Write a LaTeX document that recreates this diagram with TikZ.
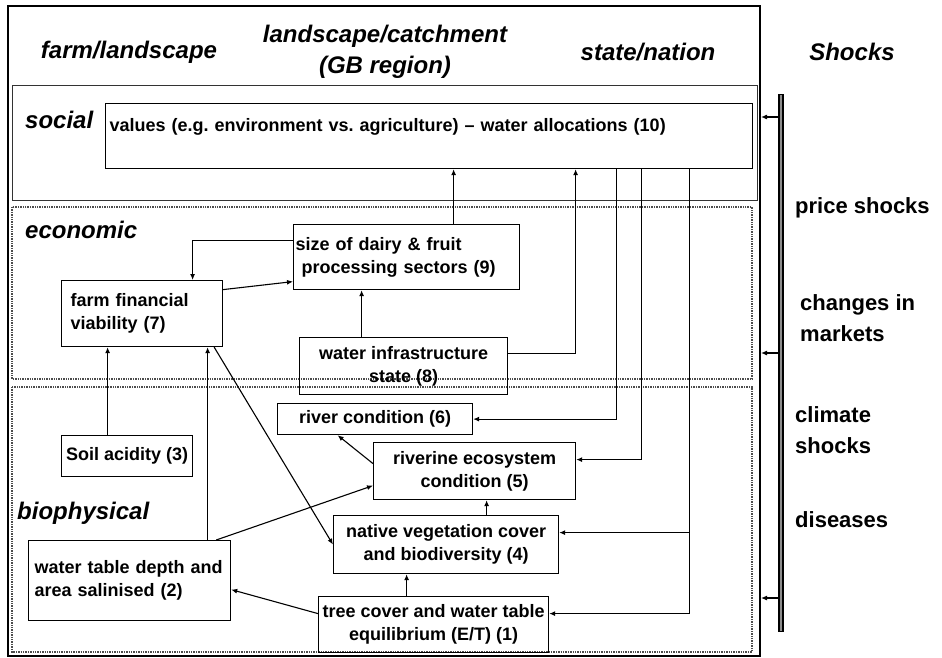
\documentclass[tikz,border=0pt]{standalone}
\usepackage{fontspec}
\setmainfont{Liberation Sans}
\frenchspacing
\usetikzlibrary{arrows.meta}
\tikzset{
block/.style={draw,line width=1.2pt,align=center,anchor=north west,inner sep=2pt,font=\fontsize{18}{23}\selectfont\bfseries},
leftblock/.style={block,align=left},
panel/.style={draw=black!80,line width=1pt},
dotpanel/.style={draw=black!70,densely dotted,line width=1.4pt},
head/.style={font=\fontsize{24}{31}\selectfont\bfseries\itshape},
shock/.style={anchor=west,align=left,inner sep=0pt,font=\fontsize{22}{31}\selectfont\bfseries},
arrow/.style={-{Latex[length=6pt,width=5pt]},line width=1.1pt}
}

\begin{document}
\begin{tikzpicture}[x=1pt,y=-1pt]
\useasboundingbox (0,0) rectangle (942,658);
\node[draw,line width=2pt,minimum width=752,minimum height=650,anchor=north west,inner sep=0pt] (frame) at (7,5) {};
\draw[panel] (12,86) rectangle (757,200);
\draw[dotpanel] (12,207) rectangle (752,379);
\draw[dotpanel] (12,387) rectangle (752,652);

\node[head] (farm) at (129,52) {farm/landscape};
\node[head,align=center] (catch) at (385,52) {landscape/catchment\\(GB region)};
\node[head] (nation) at (648,52) {state/nation};
\node[head] (shocks) at (852,52) {Shocks};

\node[head,anchor=west,inner sep=0pt] (social) at (25,120) {social};
\node[head,anchor=west,inner sep=0pt] (economic) at (25,230) {economic};
\node[head,anchor=west,inner sep=0pt] (biophys) at (17,513) {biophysical};

\node[leftblock,minimum width=647,minimum height=65,text width=639,inner xsep=4pt,text depth=22pt] (values) at (105,103) {values (e.g. environment vs. agriculture) -- water allocations (10)};
\node[leftblock,minimum width=226,minimum height=65,text width=222] (sectors) at (293,224) {size of dairy \& fruit\\\hspace*{6pt}processing sectors (9)};
\node[leftblock,minimum width=161,minimum height=66,text width=143,inner xsep=9pt] (viability) at (61,280) {farm financial\\viability (7)};
\node[block,minimum width=208,minimum height=57] (infra) at (299,337) {water infrastructure\\state (8)};
\node[block,minimum width=195,minimum height=31] (river) at (277,403) {river condition (6)};
\node[block,minimum width=131,minimum height=41] (acidity) at (61,435) {Soil acidity (3)};
\node[block,minimum width=202,minimum height=57] (riverine) at (373,442) {riverine ecosystem\\condition (5)};
\node[block,minimum width=225,minimum height=58] (veg) at (333,515) {native vegetation cover\\and biodiversity (4)};
\node[leftblock,minimum width=202,minimum height=80,text width=190,inner xsep=6pt] (salinity) at (28,540) {water table depth and\\area salinised (2)};
\node[block,minimum width=230,minimum height=56] (tree) at (318,596) {tree cover and water table\\equilibrium (E/T) (1)};

\node[shock] (price) at (795,208) {price shocks};
\node[shock] (markets) at (800,318) {changes in\\markets};
\node[shock] (climate) at (795,430) {climate\\shocks};
\node[shock] (disease) at (795,520) {diseases};
\node[draw,line width=1.2pt,fill=black!45,minimum width=4,minimum height=537,inner sep=0pt] (bar) at (781,363) {};

\draw[arrow]([xshift=47]sectors.north)--([xshift=47]sectors.north |- values.south);
\draw[arrow]([yshift=12.5]infra.east)-|([xshift=146.5]values.south);
\draw[arrow]([yshift=16.5]sectors.west)-|([xshift=50.5]viability.north);
\draw[arrow]([yshift=24]viability.east)--([yshift=-24.5]sectors.west);
\draw[arrow]([xshift=-42]infra.north)--([xshift=-42]infra.north |- sectors.south);
\draw[arrow]([xshift=-19.5]acidity.north)--([xshift=-19.5]acidity.north |- viability.south);
\draw[arrow]([xshift=78]salinity.north)--([xshift=78]salinity.north |- viability.south);
\draw[arrow]([xshift=-9]viability.south east)--(veg.west);
\draw[arrow]([xshift=-15]salinity.north east)--([yshift=-14.5]riverine.west);
\draw[arrow]([yshift=7.5]riverine.west)--([xshift=-37.5]river.south);
\draw[arrow]([xshift=40.5]veg.north)--([xshift=40.5]veg.north |- riverine.south);
\draw[arrow]([xshift=-27]tree.north)--([xshift=-27]tree.north |- veg.south);
\draw[arrow]([yshift=11]tree.west)--([yshift=-9]salinity.east);

\draw[arrow]([xshift=187.5]values.south)|-(river.east);
\draw[arrow]([xshift=212.5]values.south)|-([yshift=11.5]riverine.east);
\draw[arrow]([xshift=260.5]values.south)|-([yshift=12]veg.east);
\draw[arrow]([xshift=260.5]values.south)|-([yshift=11]tree.east);

\draw[arrow]([yshift=246]bar.west)--([yshift=246]bar.west -| frame.east);
\draw[arrow]([yshift=10]bar.west)--([yshift=10]bar.west -| frame.east);
\draw[arrow]([yshift=-235]bar.west)--([yshift=-235]bar.west -| frame.east);
\end{tikzpicture}
\end{document}
